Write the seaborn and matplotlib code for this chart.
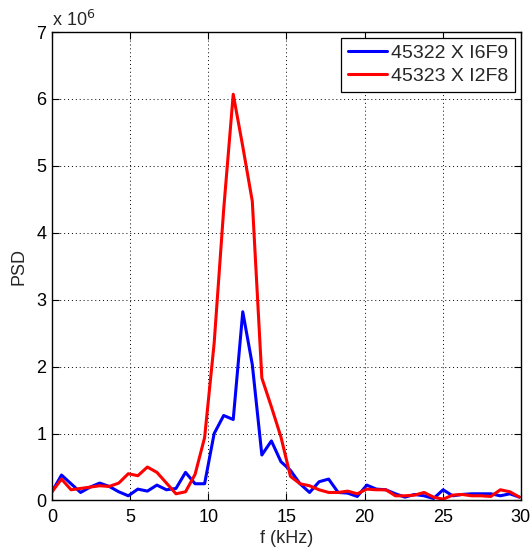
import numpy as np
import pandas as pd
import matplotlib
matplotlib.use("Agg")
import matplotlib.pyplot as plt
import seaborn as sns

df_khz = 0.6104
n_pts = 50
freq = [k * df_khz for k in range(n_pts)]

blue = [0.13, 0.38, 0.25, 0.12, 0.20, 0.26, 0.21, 0.13, 0.07, 0.17,
        0.14, 0.23, 0.16, 0.18, 0.42, 0.25, 0.25, 1.00, 1.27, 1.21,
        2.82, 2.03, 0.68, 0.89, 0.58, 0.45, 0.25, 0.12, 0.28, 0.32,
        0.12, 0.11, 0.06, 0.23, 0.17, 0.16, 0.10, 0.05, 0.09, 0.07,
        0.03, 0.16, 0.07, 0.09, 0.10, 0.10, 0.10, 0.07, 0.10, 0.05]
red = [0.13, 0.32, 0.16, 0.18, 0.20, 0.22, 0.21, 0.26, 0.40, 0.37,
       0.50, 0.42, 0.26, 0.10, 0.13, 0.39, 0.94, 2.35, 4.35, 6.07,
       5.29, 4.47, 1.83, 1.40, 0.95, 0.36, 0.25, 0.22, 0.16, 0.12,
       0.12, 0.14, 0.10, 0.17, 0.16, 0.16, 0.07, 0.07, 0.08, 0.12,
       0.05, 0.02, 0.08, 0.09, 0.07, 0.07, 0.06, 0.16, 0.13, 0.05]
labels = ["45322 X I6F9", "45323 X I2F8"]
xticks = [0, 5, 10, 15, 20, 25, 30]
yticks = [0, 1, 2, 3, 4, 5, 6, 7]

data = pd.DataFrame({
    "f": freq * 2,
    "psd": blue + red,
    "series": [labels[0]] * n_pts + [labels[1]] * n_pts,
})

sns.set_style("ticks")
plt.rcParams['font.family'] = ['Liberation Sans', 'DejaVu Sans']

fig = plt.figure(figsize=(5.32, 5.54), dpi=100)
ax = fig.add_axes([0.0977, 0.0966, 0.8813, 0.8456])

sns.lineplot(data=data, x="f", y="psd", hue="series",
             palette={labels[0]: "#0000ff", labels[1]: "#ff0000"},
             linewidth=2.2, ax=ax, estimator=None, sort=False)

ax.set_xlim(0, 30)
ax.set_ylim(0, 7)
ax.set_xticks(xticks)
ax.set_yticks(yticks)
ax.tick_params(direction="in", top=True, right=True, labelsize=13,
               length=5, width=0.8, colors="black")
ax.tick_params(axis="x", pad=6)
ax.tick_params(axis="y", pad=4)
ax.grid(True, linestyle=(0, (1, 3)), color="black", linewidth=0.7)
for s in ax.spines.values():
    s.set_visible(True)
    s.set_linewidth(1.0)
    s.set_color("black")

ax.set_xlabel("f (kHz)", fontsize=13, labelpad=3)
ax.set_ylabel("PSD", fontsize=13, labelpad=6)
ax.text(0.0, 1.005, r"x 10$^{6}$", transform=ax.transAxes, fontsize=13,
        ha="left", va="bottom")

leg = ax.legend(loc="upper right", fontsize=14, frameon=True, fancybox=False,
                edgecolor="black", framealpha=1, borderaxespad=0.3,
                handlelength=2.0, handletextpad=0.2, borderpad=0.35,
                labelspacing=0.25)
leg.get_frame().set_linewidth(0.9)
leg.set_title(None)

fig.savefig("out.png", dpi=100)
